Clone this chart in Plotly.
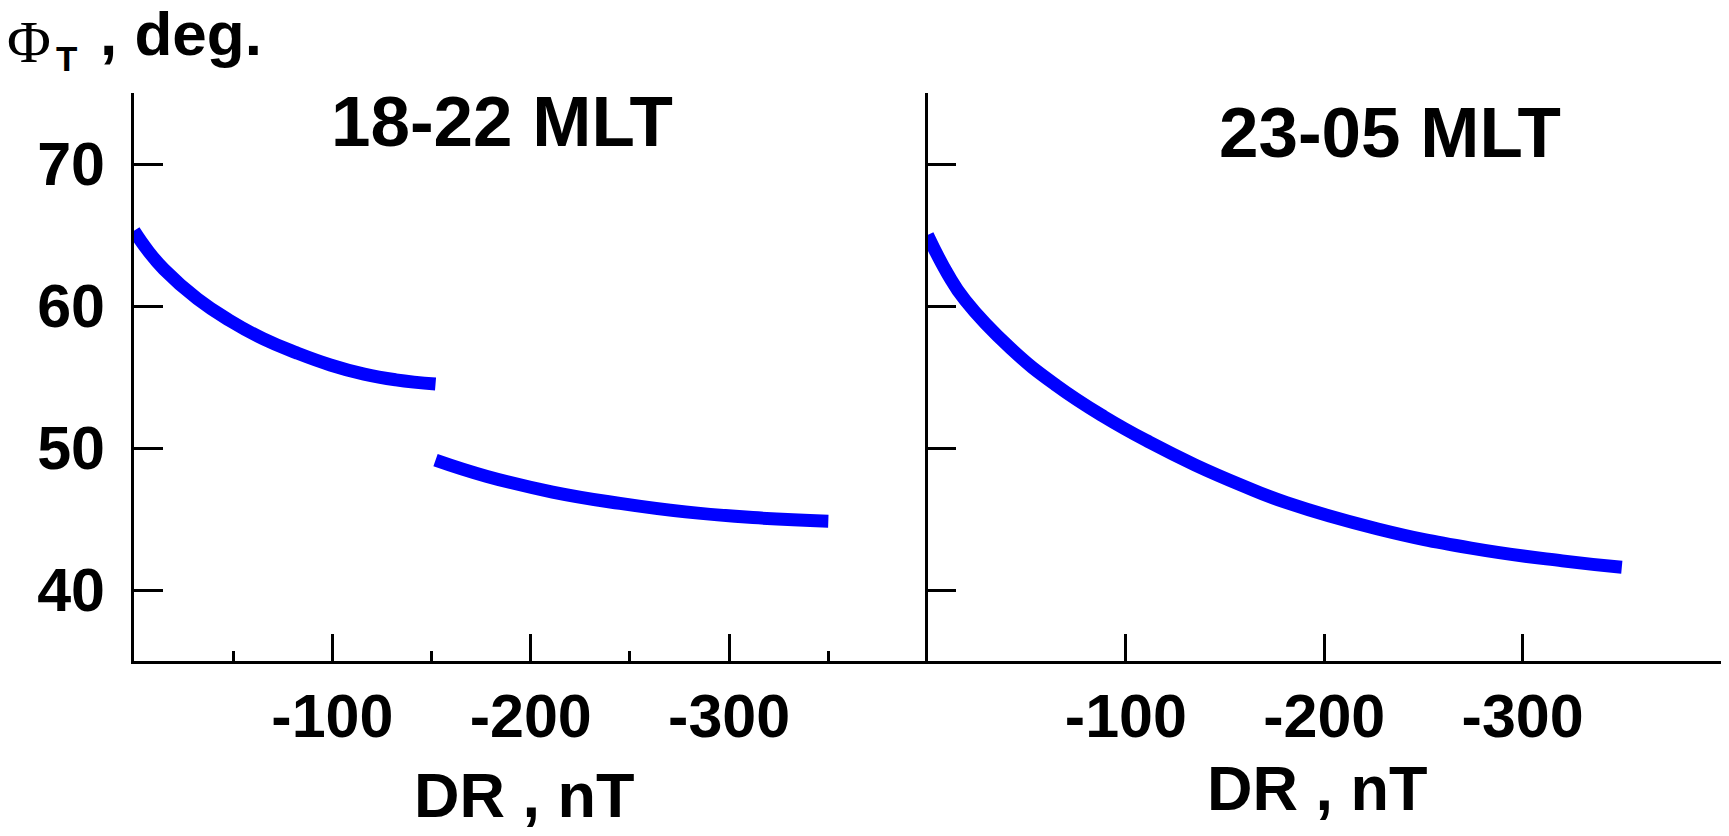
import plotly.graph_objects as go

# ---- data ----
left_seg1_dr = [0, -7, -15, -32, -48, -65, -82, -99, -116, -132, -152]
left_seg1_phi = [65.3, 63.9, 62.6, 60.5, 59.0, 57.7, 56.7, 55.85, 55.2, 54.8, 54.5]

left_seg2_dr = [-152, -178, -211, -245, -278, -312, -350]
left_seg2_phi = [49.15, 48.0, 46.9, 46.1, 45.5, 45.1, 44.85]

right_dr = [0, -10, -19, -42, -65, -89, -112, -135, -158, -181, -227, -274, -320, -350]
right_phi = [65.0, 62.3, 60.4, 57.0, 54.4, 52.2, 50.4, 48.8, 47.4, 46.15, 44.3, 42.95, 42.05, 41.6]

x_major = [-100, -200, -300]
x_major_text = ["-100", "-200", "-300"]
x_minor = [-50, -150, -250, -350]
y_ticks = [40, 50, 60, 70]
y_tick_text = ["40", "50", "60", "70"]

panel_titles = ["18-22 MLT", "23-05 MLT"]
x_title = "DR , nT"
y_title_symbol = "Φ"
y_title_sub = "T"
y_title_rest = ", deg."

BLUE = "#0000FF"
FONT = "Liberation Sans"

fig = go.Figure()
line_style = dict(color=BLUE, width=13, shape="spline", smoothing=1.3)
fig.add_trace(go.Scatter(x=left_seg1_dr, y=left_seg1_phi, mode="lines", line=line_style,
                         xaxis="x", yaxis="y", showlegend=False, hoverinfo="skip"))
fig.add_trace(go.Scatter(x=left_seg2_dr, y=left_seg2_phi, mode="lines", line=line_style,
                         xaxis="x", yaxis="y", showlegend=False, hoverinfo="skip"))
fig.add_trace(go.Scatter(x=right_dr, y=right_phi, mode="lines", line=line_style,
                         xaxis="x2", yaxis="y2", showlegend=False, hoverinfo="skip"))

tickfont = dict(family=FONT, size=61, color="black", weight="bold")
common_x = dict(range=[0, -400], showgrid=False, zeroline=False, showline=True,
                linecolor="black", linewidth=2.5, ticks="inside", ticklen=27,
                tickwidth=2.5, tickcolor="black", tickmode="array",
                tickvals=x_major, ticktext=x_major_text, tickfont=tickfont,
                ticklabelstandoff=0)
common_y = dict(range=[35, 75], showgrid=False, zeroline=False, showline=True,
                linecolor="black", linewidth=2.5, ticks="inside", ticklen=29,
                tickwidth=2.5, tickcolor="black", tickmode="array",
                tickvals=y_ticks, ticktext=y_tick_text, tickfont=tickfont)

fig.update_layout(
    width=1729, height=836,
    margin=dict(l=134, r=8, t=93, b=175),
    paper_bgcolor="white", plot_bgcolor="white",
    xaxis=dict(domain=[0, 0.5], anchor="y",
               minor=dict(tickmode="array", tickvals=x_minor, ticks="inside",
                          ticklen=10, tickwidth=2.5, tickcolor="black", showgrid=False),
               **common_x),
    yaxis=dict(domain=[0, 1], anchor="x", showticklabels=True, ticklabelstandoff=14, **common_y),
    xaxis2=dict(domain=[0.5, 1], anchor="y2", **common_x),
    yaxis2=dict(domain=[0, 1], anchor="x2", showticklabels=False, **common_y),
)

ann_font = dict(family=FONT, color="black", weight="bold")
fig.add_annotation(text=panel_titles[0], xref="paper", yref="paper", x=0.2319, y=0.9507,
                   xanchor="center", yanchor="middle", showarrow=False,
                   font=dict(size=71, **ann_font))
fig.add_annotation(text=panel_titles[1], xref="paper", yref="paper", x=0.7913, y=0.9296,
                   xanchor="center", yanchor="middle", showarrow=False,
                   font=dict(size=71, **ann_font))
fig.add_annotation(text=x_title, xref="paper", yref="paper", x=0.246, y=-0.236,
                   xanchor="center", yanchor="middle", showarrow=False,
                   font=dict(size=63, **ann_font))
fig.add_annotation(text=x_title, xref="paper", yref="paper", x=0.7454, y=-0.224,
                   xanchor="center", yanchor="middle", showarrow=False,
                   font=dict(size=63, **ann_font))
# y-axis title: Φ (serif), subscript T, ", deg."
fig.add_annotation(text=y_title_symbol, xref="paper", yref="paper", x=-0.0815, y=1.09,
                   xanchor="left", yanchor="middle", showarrow=False,
                   font=dict(family="Liberation Serif", size=60, color="black"))
fig.add_annotation(text=y_title_sub, xref="paper", yref="paper", x=-0.0504, y=1.0600,
                   xanchor="left", yanchor="middle", showarrow=False,
                   font=dict(size=35, **ann_font))
fig.add_annotation(text=y_title_rest, xref="paper", yref="paper", x=-0.0227, y=1.1048,
                   xanchor="left", yanchor="middle", showarrow=False,
                   font=dict(size=62, **ann_font))

fig.write_html("out.html")
